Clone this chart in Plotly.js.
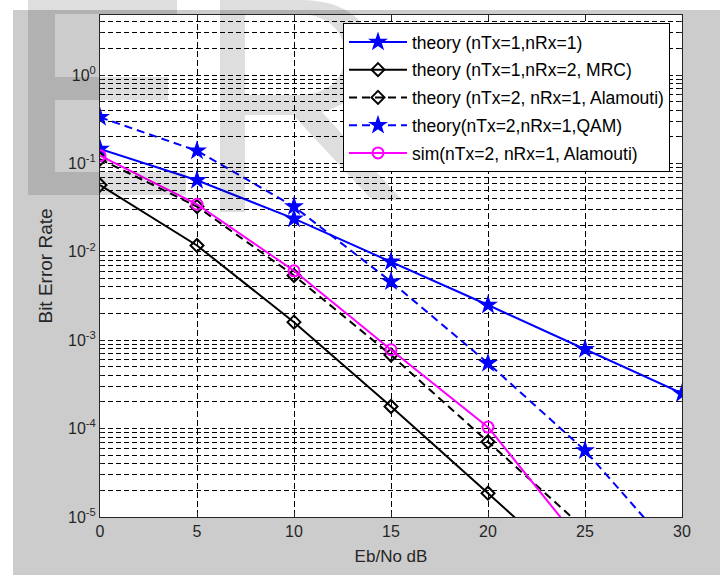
<!DOCTYPE html>
<html>
<head>
<meta charset="utf-8">
<script src="https://cdn.plot.ly/plotly-3.0.1.min.js"></script>
<style>html,body{margin:0;padding:0;background:#fff;}#chart{width:720px;height:575px;}</style>
</head>
<body>
<div id="chart"></div>
<script>
// ---- data ----
const ebno = [0, 5, 10, 15, 20, 25, 30];
const berSISO = [0.146, 0.0645, 0.0237, 0.0077, 0.0025, 0.00079, 0.00025];
const berMRC = [0.057, 0.0118, 0.0016, 0.000178, 0.0000186, 0.00000187, 0.00000019];
const berAlamouti = [0.112, 0.0325, 0.0054, 0.00068, 0.000071, 0.0000074, 0.00000075];
const berQAM = [0.333, 0.139, 0.0325, 0.0046, 0.00055, 0.0000566, 0.0000032];
const ebnoSim = [0, 5, 10, 15, 20, 25];
const berSim = [0.1225, 0.0345, 0.0061, 0.00078, 0.000104, 0.0000045];

const names = [
  'theory (nTx=1,nRx=1)',
  'theory (nTx=1,nRx=2, MRC)',
  'theory (nTx=2, nRx=1, Alamouti)',
  'theory(nTx=2,nRx=1,QAM)',
  'sim(nTx=2, nRx=1, Alamouti)'
];
const xTickVals = [0, 5, 10, 15, 20, 25, 30];
const yTickVals = [1e-5, 1e-4, 1e-3, 1e-2, 1e-1, 1];
const yTickText = ['10<sup>-5</sup>', '10<sup>-4</sup>', '10<sup>-3</sup>', '10<sup>-2</sup>', '10<sup>-1</sup>', '10<sup>0</sup>'];

// minor grid values (2..9 per decade)
const yMinor = [];
for (let e = -5; e <= 0; e++) for (let m = 2; m <= 9; m++) { const v = m * Math.pow(10, e); if (v < 4.8) yMinor.push(v); }

const REG = '"Liberation Sans", Arial, sans-serif';

const traces = [
  {x: ebno, y: berSISO, name: names[0], legendgroup: 'g1', mode: 'lines+markers',
   line: {color: '#0000ff', width: 2}, marker: {symbol: 'star', size: 15, color: '#0000ff'}},
  {x: ebno, y: berMRC, name: names[1], legendgroup: 'g2', mode: 'lines+markers',
   line: {color: '#000000', width: 2}, marker: {symbol: 'diamond-open', size: 10, color: '#000000', line: {width: 2}}},
  {x: ebno, y: berAlamouti, name: names[2], legendgroup: 'g3', mode: 'lines+markers',
   line: {color: '#000000', width: 2, dash: '8px,5px'}, marker: {symbol: 'diamond-open', size: 10, color: '#000000', line: {width: 2}}},
  {x: ebno, y: berQAM, name: names[3], legendgroup: 'g4', mode: 'lines+markers',
   line: {color: '#0000ff', width: 2, dash: '8px,5px'}, marker: {symbol: 'star', size: 15, color: '#0000ff'}},
  {x: ebnoSim, y: berSim, name: names[4], legendgroup: 'g5', mode: 'lines+markers',
   line: {color: '#ff00ff', width: 2}, marker: {symbol: 'circle-open', size: 11, color: '#ff00ff', line: {width: 2}}}
];

// pixel -> paper conversion for decorative shapes
const W = 720, H = 575, ML = 100, MR = 38, MT = 15, MB = 58;
const PW = W - ML - MR, PH = H - MT - MB;
function px(x) { return (x - ML) / PW; }
function py(y) { return (H - MB - y) / PH; }
function pathPx(s) {
  return s.replace(/(-?\d+\.?\d*),(-?\d+\.?\d*)/g, (m, a, b) => px(+a).toFixed(5) + ',' + py(+b).toFixed(5));
}
function rectPx(x0, y0, x1, y1, color, layer) {
  return {type: 'rect', xref: 'paper', yref: 'paper', x0: px(x0), x1: px(x1), y0: py(y1), y1: py(y0),
          fillcolor: color, line: {width: 0}, layer: layer};
}
const WM = 'rgba(0,0,0,0.13)';
const shapes = [
  rectPx(0, 0, 720, 10, '#ffffff', 'below'),
  rectPx(0, 0, 13, 575, '#ffffff', 'below'),
  // watermark "E"
  rectPx(28, 0, 55, 195, WM, 'above'),
  rectPx(55, 0, 177, 14, WM, 'above'),
  rectPx(55, 77, 168, 100, WM, 'above'),
  rectPx(55, 172, 186, 195, WM, 'above'),
  // watermark "R"
  {type: 'path', xref: 'paper', yref: 'paper', layer: 'above', fillcolor: WM, line: {width: 0}, fillrule: 'evenodd',
   path: pathPx('M220,0 L300,0 C350,0 372,25 372,55 C372,85 352,104 322,112 L402,200 L372,200 L293,115 L245,115 L245,212 L220,212 Z ' +
                'M245,14 L298,14 C328,14 345,32 345,55 C345,80 326,95 298,95 L245,95 Z')}
];

const layout = {
  width: W, height: H,
  margin: {l: ML, r: MR, t: MT, b: MB},
  paper_bgcolor: '#cccccc',
  plot_bgcolor: '#ffffff',
  showlegend: true,
  legend: {x: px(343), y: py(23), xanchor: 'left', yanchor: 'top', bgcolor: '#ffffff',
           bordercolor: '#000000', borderwidth: 1, font: {family: REG, size: 17.5, color: '#000'},
           itemwidth: 58, tracegroupgap: 2},
  xaxis: {
    range: [0, 30], tickmode: 'array', tickvals: xTickVals, ticktext: xTickVals.map(String),
    showgrid: true, gridcolor: '#000000', griddash: '6px,3px', gridwidth: 1,
    zeroline: false, showline: true, linecolor: '#262626', linewidth: 1, mirror: 'ticks',
    ticks: 'inside', ticklen: 5, tickcolor: '#262626',
    tickfont: {family: REG, size: 16, color: '#262626'},
    title: {text: 'Eb/No dB', font: {family: REG, size: 17, color: '#262626'}, standoff: 10}
  },
  yaxis: {
    type: 'log', range: [-5, 0.679], tickmode: 'array', tickvals: yTickVals, ticktext: yTickText,
    showgrid: true, gridcolor: '#000000', griddash: '5px,3px', gridwidth: 1,
    zeroline: false, showline: true, linecolor: '#262626', linewidth: 1, mirror: 'ticks',
    ticks: 'inside', ticklen: 5, tickcolor: '#262626',
    tickfont: {family: REG, size: 16, color: '#262626'},
    minor: {tickvals: yMinor, showgrid: true, gridcolor: '#000000', griddash: '5px,3px', gridwidth: 1,
            ticks: 'inside', ticklen: 3, tickcolor: '#262626'},
    title: {text: 'Bit Error Rate', font: {family: REG, size: 19, color: '#262626'}, standoff: 10}
  },
  shapes: shapes
};

Plotly.newPlot('chart', traces, layout, {displayModeBar: false, staticPlot: true});
</script>
</body>
</html>
